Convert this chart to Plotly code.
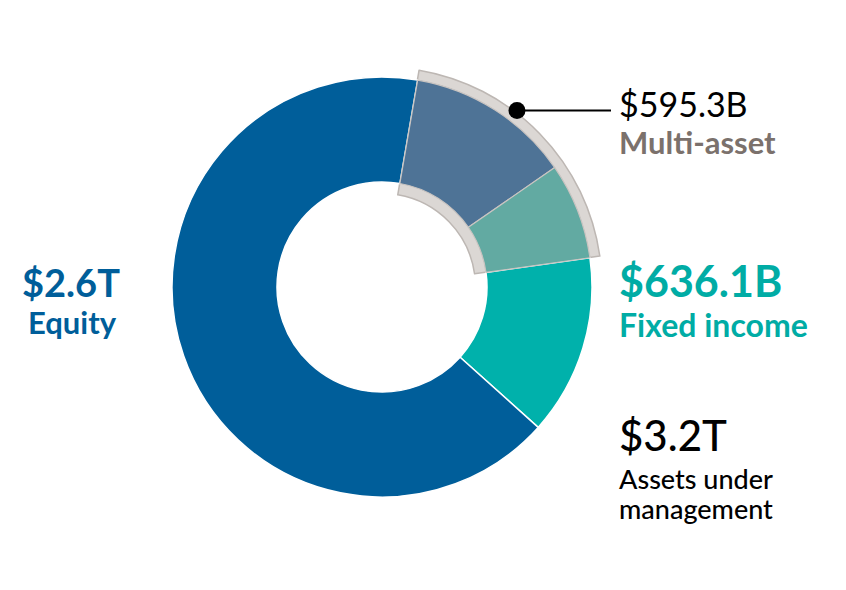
import plotly.graph_objects as go

W, H = 846, 590

# slice order: clockwise starting at the fixed income / multi-asset boundary
segments = ["Fixed income", "Equity", "Multi-asset (equity)", "Multi-asset (fixed income)"]
values_b = [444, 2114, 405, 237]          # $B
colors = ["#00b1ab", "#005e9a", "#4e7396", "#62aaa2"]
line_colors = ["#ffffff", "#ffffff", "#c9c4c1", "#c9c4c1"]

multi_parts = ["Multi-asset (equity)", "Multi-asset (fixed income)"]

# label texts
equity_value, equity_label = "$2.6T", "Equity"
fi_value, fi_label = "$636.1B", "Fixed income"
multi_value, multi_label = "$595.3B", "Multi-asset"
aum_value, aum_label = "$3.2T", ["Assets under", "management"]

FONT = "Lato"


def px(x):
    return x / W


def py(y):
    return 1 - y / H


def domain(cx, cy, r):
    return dict(x=[px(cx - r), px(cx + r)], y=[py(cy + r), py(cy - r)])


cx, cy = 382, 287
multi_total = sum(v for s, v in zip(segments, values_b) if s in multi_parts)
rest_total = sum(values_b) - multi_total

fig = go.Figure()

# grey highlight band behind the multi-asset slices
fig.add_trace(go.Pie(
    values=[multi_total, rest_total],
    labels=["Multi-asset", "other"],
    sort=False, direction="clockwise", rotation=9.7,
    hole=93.5 / 220,
    domain=domain(cx, cy, 220),
    marker=dict(colors=["#dbd7d4", "rgba(0,0,0,0)"],
                line=dict(color=["#bdb7b3", "rgba(0,0,0,0)"], width=[1.5, 0])),
    textinfo="none", hoverinfo="skip",
))

fig.add_trace(go.Pie(
    values=values_b,
    labels=segments,
    sort=False, direction="clockwise", rotation=82,
    hole=0.5,
    domain=domain(cx, cy, 210),
    marker=dict(colors=colors, line=dict(color=line_colors, width=[1.5, 1.5, 1.2, 1.2])),
    textinfo="none",
    hovertemplate="%{label}: $%{value}B<extra></extra>",
))

# callout for multi-asset
dot_x, dot_y, dot_r = 517, 110.5, 8.5
fig.add_shape(type="line", xref="paper", yref="paper",
              x0=px(dot_x), y0=py(dot_y), x1=px(611), y1=py(dot_y),
              line=dict(color="black", width=2))
fig.add_shape(type="circle", xref="paper", yref="paper",
              x0=px(dot_x - dot_r), y0=py(dot_y - dot_r), x1=px(dot_x + dot_r), y1=py(dot_y + dot_r),
              fillcolor="black", line=dict(width=0))


def label(text, x, y, size, color, weight="normal", anchor="left"):
    fig.add_annotation(text=text, x=px(x), y=py(y), xref="paper", yref="paper",
                       xanchor=anchor, yanchor="middle", showarrow=False,
                       font=dict(family=FONT, size=size, color=color, weight=weight))


label(multi_value, 617, 103, 34, "#000000")
label(multi_label, 617, 142, 31, "#7b716c", "bold")

label(equity_value, 71, 282, 38, "#005e9a", "bold", "center")
label(equity_label, 72, 322, 31, "#005e9a", "bold", "center")

label(fi_value, 617, 281, 43, "#00aca5", "bold")
label(fi_label, 617, 324, 32, "#00aca5", "bold")

label(aum_value, 617, 435, 42, "#000000", 500)
label(aum_label[0], 617, 478, 27, "#000000", 500)
label(aum_label[1], 617, 508, 27, "#000000", 500)

fig.update_layout(
    width=W, height=H,
    margin=dict(l=0, r=0, t=0, b=0),
    paper_bgcolor="white", plot_bgcolor="white",
    showlegend=False,
)

# drop the browser's default 8px body margin so the figure sits at the window corner
fig.write_html("out.html", config={"displayModeBar": False},
               post_script="document.body.style.margin = '0';")
